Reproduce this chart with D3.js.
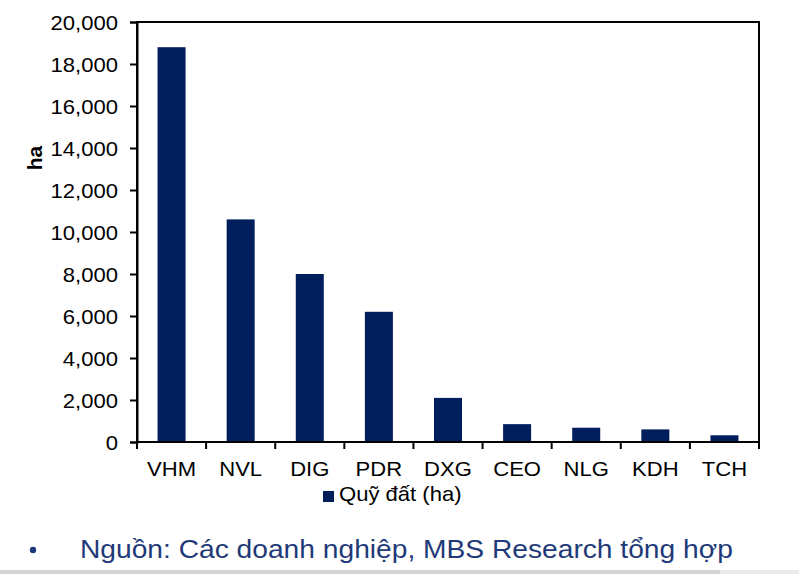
<!DOCTYPE html>
<html>
<head>
<meta charset="utf-8">
<script src="https://cdn.jsdelivr.net/npm/d3@7/dist/d3.min.js"></script>
<style>
  html, body { margin: 0; padding: 0; background: #fff; }
  svg { display: block; font-family: "Liberation Sans", Arial, sans-serif; }
</style>
</head>
<body>
<svg id="chart" width="799" height="574"></svg>
<script>
const categories = ["VHM", "NVL", "DIG", "PDR", "DXG", "CEO", "NLG", "KDH", "TCH"];
const landBank = [18800, 10600, 8000, 6200, 2100, 850, 680, 600, 320];
const yTicks = [0, 2000, 4000, 6000, 8000, 10000, 12000, 14000, 16000, 18000, 20000];
const seriesName = "Quỹ đất (ha)";
const yTitle = "ha";
const sourceNote = "Nguồn: Các doanh nghiệp, MBS Research tổng hợp";

const W = 799, H = 574;
const plot = { left: 137, right: 759, top: 22, bottom: 442 };
const barColor = "#001E5B";
const stretchX = 1.05;

const svg = d3.select("#chart");

function stretch(sel, f) {
  sel.each(function () {
    const len = this.getComputedTextLength();
    d3.select(this).attr("textLength", len * f).attr("lengthAdjust", "spacingAndGlyphs");
  });
}

const xb = d3.scaleBand().domain(categories).range([plot.left, plot.right]);
const y = d3.scaleLinear().domain([0, 20000]).range([plot.bottom, plot.top]);

// bars
svg.append("g").selectAll("rect").data(categories).join("rect")
  .attr("x", d => xb(d) + xb.bandwidth() / 2 - 14)
  .attr("width", 28)
  .attr("y", (d, i) => y(landBank[i]))
  .attr("height", (d, i) => y(0) - y(landBank[i]))
  .attr("fill", barColor);

// frame
svg.append("rect")
  .attr("x", plot.left).attr("y", plot.top)
  .attr("width", plot.right - plot.left).attr("height", plot.bottom - plot.top)
  .attr("fill", "none").attr("stroke", "#000").attr("stroke-width", 2);

// y axis
const yAxis = svg.append("g")
  .attr("transform", `translate(${plot.left},0)`)
  .call(d3.axisLeft(y).tickValues(yTicks).tickFormat(d3.format(",")).tickSize(7).tickPadding(12));
yAxis.select(".domain").attr("stroke", "#000").attr("stroke-width", 2);
yAxis.selectAll(".tick line").attr("stroke", "#000").attr("stroke-width", 2);
yAxis.selectAll(".tick text")
  .attr("font-size", 21).attr("fill", "#000").attr("dy", "0.35em")
  .attr("font-family", "Liberation Sans, Arial, sans-serif")
  .call(stretch, stretchX);

// x axis ticks at band boundaries
const boundaries = categories.map(d => xb(d)).concat([plot.right]);
svg.append("g").selectAll("line").data(boundaries).join("line")
  .attr("x1", d => d).attr("x2", d => d)
  .attr("y1", plot.bottom).attr("y2", plot.bottom + 7)
  .attr("stroke", "#000").attr("stroke-width", 2);

// x labels
svg.append("g").selectAll("text").data(categories).join("text")
  .attr("x", d => xb(d) + xb.bandwidth() / 2)
  .attr("y", 476)
  .attr("text-anchor", "middle")
  .attr("font-size", 21)
  .attr("fill", "#000")
  .text(d => d)
  .call(stretch, stretchX);

// y title
svg.append("text")
  .attr("transform", "translate(42,158) rotate(-90)")
  .attr("text-anchor", "middle")
  .attr("font-size", 21)
  .attr("font-weight", "bold")
  .attr("fill", "#000")
  .text(yTitle);

// legend
svg.append("rect").attr("x", 323).attr("y", 491).attr("width", 11).attr("height", 11).attr("fill", barColor);
svg.append("text")
  .attr("x", 339).attr("y", 501)
  .attr("font-size", 21).attr("fill", "#000")
  .text(seriesName)
  .call(stretch, stretchX);

// source note
svg.append("circle").attr("cx", 33).attr("cy", 550).attr("r", 3.2).attr("fill", "#1F3A78");
svg.append("text")
  .attr("x", 80).attr("y", 558)
  .attr("font-size", 25).attr("fill", "#1F3A78")
  .text(sourceNote)
  .call(stretch, 1.127);

// bottom grey strip
svg.append("rect").attr("x", 0).attr("y", 570).attr("width", 720).attr("height", 4).attr("fill", "#D4D4D4");
svg.append("rect").attr("x", 720).attr("y", 570).attr("width", 79).attr("height", 4).attr("fill", "#EBEBEB");
</script>
</body>
</html>
